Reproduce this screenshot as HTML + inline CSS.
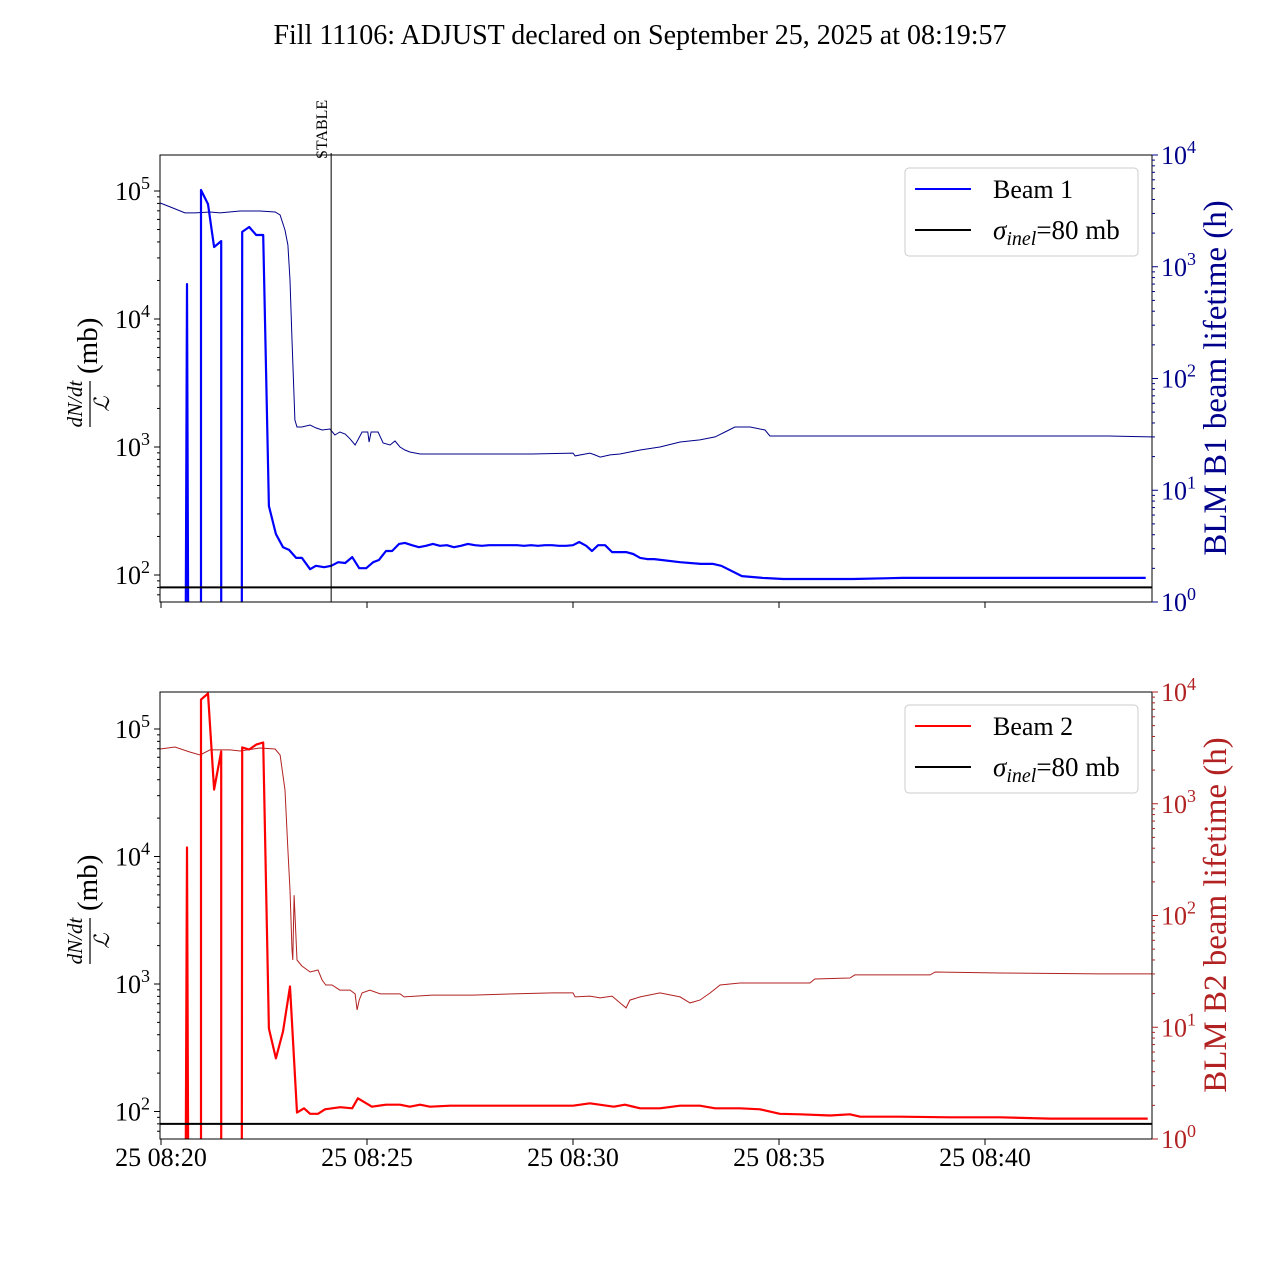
<!DOCTYPE html>
<html><head><meta charset="utf-8"><style>
body{margin:0;background:#fff;}
svg{font-family:"Liberation Serif",serif;}
</style></head><body>
<svg id="chart" width="1280" height="1280" xmlns="http://www.w3.org/2000/svg">
<text x="640" y="44" font-size="28" text-anchor="middle">Fill 11106: ADJUST declared on September 25, 2025 at 08:19:57</text>
</svg>
<script>
// ---- data (time in minutes after 08:20) ----
const xTickLabels=["25 08:20","25 08:25","25 08:30","25 08:35","25 08:40"];
const xTickMinutes=[0,5,10,15,20];
const stableMinute=4.13;
const sigmaInel=80;
const b1Times=[0.60,0.63,0.66,0.97,0.97,1.14,1.29,1.46,1.46,1.96,1.97,2.14,2.31,2.48,2.62,2.79,2.96,3.11,3.28,3.42,3.62,3.76,3.96,4.13,4.30,4.47,4.64,4.81,4.98,5.15,5.29,5.46,5.61,5.78,5.92,6.09,6.26,6.43,6.60,6.77,6.94,7.11,7.28,7.45,7.62,7.79,7.96,8.13,8.30,8.47,8.64,8.81,8.98,9.15,9.32,9.49,9.66,9.83,10.0,10.15,10.32,10.46,10.61,10.78,10.95,11.12,11.29,11.46,11.63,11.80,11.97,12.6,13.1,13.4,13.6,14.1,14.6,15.1,15.6,16.8,18.0,19.2,20.5,21.7,22.8,23.9];
const b1Loss=[0,18750,0,0,101800,79000,36500,40600,0,0,47900,52300,45300,45300,346,209,165,157,136,136,111,118,115,118,126,124,138,113,113,126,131,154,154,175,178,171,165,169,175,169,171,165,169,175,171,169,171,171,171,171,171,169,171,169,171,171,169,169,171,181,169,154,171,171,151,151,151,146,136,133,133,126,122,122,118,98,95,93,93,93,95,95,95,95,95,95];
const b1LtTimes=[-0.02,0.22,0.58,0.83,1.19,1.43,1.92,2.40,2.77,2.89,3.01,3.08,3.13,3.18,3.25,3.30,3.42,3.62,3.76,3.91,4.10,4.22,4.34,4.47,4.59,4.71,4.78,4.88,5.02,5.05,5.10,5.27,5.39,5.56,5.68,5.80,5.92,6.04,6.29,7.0,8.0,9.0,10.0,10.05,10.41,10.53,10.66,10.90,11.14,11.38,11.63,12.11,12.60,13.08,13.45,13.69,13.93,14.30,14.66,14.78,15.02,17,19,21,23,24.05];
const b1Lifetime=[3720,3430,3030,3030,3090,3030,3155,3155,3090,2905,2130,1565,761,221,42.5,36.8,36.8,38.4,36.1,34.6,35.3,31.2,33.2,31.9,28.8,25.4,28.2,33.2,33.2,27.0,33.2,33.2,26.5,25.4,27.6,24.4,22.9,22.0,21.1,21.1,21.1,21.1,21.5,20.3,21.5,20.7,19.8,20.7,21.1,22.0,22.9,24.4,27.0,28.2,30.0,33.2,36.8,36.8,34.6,30.6,30.6,30.6,30.6,30.6,30.6,30.0];
const b2Times=[0.60,0.63,0.66,0.97,0.97,1.14,1.29,1.46,1.46,1.96,1.97,2.14,2.31,2.48,2.62,2.79,2.96,3.13,3.30,3.47,3.62,3.81,3.98,4.35,4.64,4.78,5.12,5.46,5.80,6.04,6.29,6.53,7.02,8.24,9.45,10.0,10.41,10.99,11.26,11.63,12.11,12.60,13.08,13.45,14.05,14.54,15.02,15.51,16.24,16.72,16.97,17.93,19.15,20.36,21.58,22.79,23.95];
const b2Loss=[0,11770,0,0,170000,190000,33500,66700,0,0,71700,69000,75500,78300,448,261,424,955,98,106,96,96,104,108,106,127,109,113,113,109,113,109,111,111,111,111,116,109,113,106,106,111,111,106,106,104,96,95,93,95,91,91,90,90,88,88,88];
const b2LtTimes=[-0.02,0.34,0.70,0.95,1.19,1.68,1.92,2.40,2.77,2.89,3.01,3.08,3.13,3.18,3.20,3.23,3.30,3.42,3.62,3.81,3.91,4.00,4.15,4.34,4.59,4.71,4.76,4.81,4.88,5.07,5.32,5.80,5.90,6.58,7.57,8.54,9.51,10.0,10.05,10.41,10.66,10.95,11.14,11.29,11.38,11.63,12.11,12.60,12.84,13.08,13.33,13.57,14.05,15.02,15.75,15.87,16.72,16.84,18.67,18.79,20.36,22.79,24.05];
const b2Lifetime=[3090,3220,2905,2730,3030,3030,2965,3155,3090,2730,1327,386,169,49.1,40.0,152,40.0,35.3,31.2,32.5,26.5,23.9,23.9,21.5,21.5,19.9,14.3,17.5,20.3,21.5,19.9,19.9,18.7,19.4,19.4,19.9,20.3,20.3,18.7,19.0,18.3,19.0,16.5,14.9,17.5,18.7,20.3,18.7,16.5,17.5,20.3,23.9,24.9,24.9,24.9,27.0,27.6,29.4,29.4,31.2,30.6,30.0,30.0];
const leftTicks=[2,3,4,5];
const rightTicks=[0,1,2,3,4];

const NS="http://www.w3.org/2000/svg";
const svg=document.getElementById('chart');
function mk(tag,attrs,parent){const e=document.createElementNS(NS,tag);for(const k in attrs)e.setAttribute(k,attrs[k]);(parent||svg).appendChild(e);return e;}
const X0=160,X1=1152;
function xs(t){return 161+t*41.2;}

function panel(cfg){
  const top=cfg.top,bot=top+447;
  const g=mk('g',{});
  
  
  const yl=v=>{if(v<=0)return bot+30;return cfg.y5+(5-Math.log10(v))*cfg.dec;};
  const yr=v=>bot-Math.log10(v)*111.75;
  const clipId='clip'+cfg.name;
  const cp=mk('clipPath',{id:clipId},g);mk('rect',{x:X0,y:top,width:X1-X0,height:447},cp);
  let d='';const b=cfg.ltT;for(let i=0;i<Math.min(b.length,cfg.lt.length);i++){d+=(i?'L':'M')+xs(b[i]).toFixed(1)+','+yr(cfg.lt[i]).toFixed(1);}
  const lt=mk('path',{d:d,fill:'none',stroke:cfg.ltColor,'stroke-width':1,'clip-path':`url(#${clipId})`},g);
  
  
  d='';for(let i=0;i<Math.min(cfg.t.length,cfg.v.length);i++){d+=(i?'L':'M')+xs(cfg.t[i]).toFixed(1)+','+yl(cfg.v[i]).toFixed(1);}
  const ll=mk('path',{d:d,fill:'none',stroke:cfg.color,'stroke-width':2.2,'stroke-linejoin':'round','clip-path':`url(#${clipId})`},g);
  
  
  const sl=mk('line',{x1:X0,x2:X1,y1:yl(sigmaInel),y2:yl(sigmaInel),stroke:'#000','stroke-width':2},g);
  
  
  if(cfg.stable){
    const s=mk('line',{x1:xs(stableMinute),x2:xs(stableMinute),y1:top-2,y2:bot,stroke:'#000','stroke-width':1},g);
    
    
    const st=mk('text',{transform:`translate(${xs(stableMinute)-4},${top+4}) rotate(-90)`,'font-size':16},g);
    st.textContent='STABLE';
    
    
  }
  const fr=mk('rect',{x:X0,y:top,width:X1-X0,height:447,fill:'none',stroke:'#000','stroke-width':1},g);
  
  
  leftTicks.forEach(p=>{
    const y=yl(Math.pow(10,p));
    mk('line',{x1:X0-6,x2:X0,y1:y,y2:y,stroke:'#000'},g);
    const t=mk('text',{x:X0-10,y:y+9,'font-size':26,'text-anchor':'end'},g);
    t.innerHTML=`10<tspan dy="-11" font-size="18">${p}</tspan>`;
    
    
    for(let m=2;m<10;m++){const ym=yl(m*Math.pow(10,p));if(ym>top&&ym<bot)mk('line',{x1:X0-3,x2:X0,y1:ym,y2:ym,stroke:'#000'},g);}
  });
  for(let m=6;m<10;m++){const ym=yl(m*10);if(ym<bot)mk('line',{x1:X0-3,x2:X0,y1:ym,y2:ym,stroke:'#000'},g);}
  rightTicks.forEach(p=>{
    const y=yr(Math.pow(10,p));
    mk('line',{x1:X1,x2:X1+6,y1:y,y2:y,stroke:cfg.ltColor},g);
    const t=mk('text',{x:X1+9,y:y+9,'font-size':26,fill:cfg.ltColor},g);
    t.innerHTML=`10<tspan dy="-11" font-size="18">${p}</tspan>`;
    
    
    if(p<4)for(let m=2;m<10;m++){const ym=yr(m*Math.pow(10,p));mk('line',{x1:X1,x2:X1+3,y1:ym,y2:ym,stroke:cfg.ltColor},g);}
  });
  xTickMinutes.forEach((m,i)=>{
    const x=xs(m);
    mk('line',{x1:x,x2:x,y1:bot,y2:bot+6,stroke:'#000'},g);
    if(cfg.labels){const t=mk('text',{x:x,y:bot+27,'font-size':26,'text-anchor':'middle'},g);t.textContent=xTickLabels[i];
      
      }
  });
  const yc=top+223;
  const yg=mk('g',{transform:`translate(90,${yc+18}) rotate(-90)`},g);
  
  
  mk('text',{x:-8,y:-8,'font-size':21,'font-style':'italic','text-anchor':'middle'},yg).textContent='dN/dt';
  mk('line',{x1:-31,x2:15,y1:0,y2:0,stroke:'#000','stroke-width':1.2},yg);
  mk('text',{x:-8,y:19,'font-size':21,'font-style':'italic','text-anchor':'middle'},yg).textContent='ℒ';
  mk('text',{x:22,y:7,'font-size':29},yg).textContent='(mb)';
  const rl=mk('text',{transform:`translate(1226,${yc}) rotate(-90)`,'font-size':33,'text-anchor':'middle',fill:cfg.ltColor},g);
  rl.textContent=cfg.rlabel;
  
  
  const lg=mk('g',{},g);
  
  
  mk('rect',{x:905,y:top+13,width:233,height:88,rx:4,fill:'#fff',stroke:'#ccc'},lg);
  mk('line',{x1:915,x2:971,y1:top+34,y2:top+34,stroke:cfg.color,'stroke-width':2},lg);
  mk('text',{x:993,y:top+43,'font-size':26},lg).textContent=cfg.legend;
  mk('line',{x1:915,x2:971,y1:top+75,y2:top+75,stroke:'#000','stroke-width':2},lg);
  const sg=mk('text',{x:993,y:top+84,'font-size':27},lg);
  sg.innerHTML='<tspan font-style="italic">σ</tspan><tspan dy="6" font-size="20" font-style="italic">inel</tspan><tspan dy="-6">=80 mb</tspan>';
}
panel({name:'beam1-panel',top:155,y5:191,dec:128,t:b1Times,v:b1Loss,ltT:b1LtTimes,lt:b1Lifetime,color:'#0000ff',ltColor:'#00008b',rlabel:'BLM B1 beam lifetime (h)',legend:'Beam 1',stable:true,labels:false});
panel({name:'beam2-panel',top:692,y5:729,dec:127.5,t:b2Times,v:b2Loss,ltT:b2LtTimes,lt:b2Lifetime,color:'#ff0000',ltColor:'#b22222',rlabel:'BLM B2 beam lifetime (h)',legend:'Beam 2',stable:false,labels:true});
</script>
</body></html>
